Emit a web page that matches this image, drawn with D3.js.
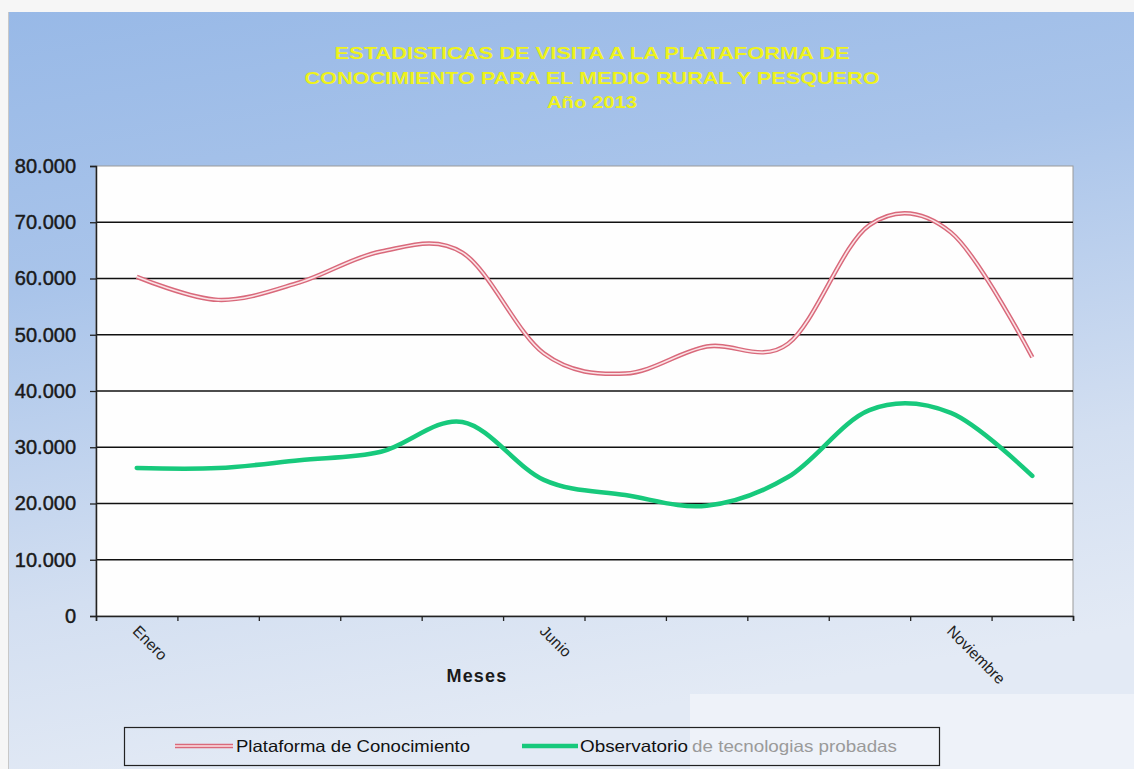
<!DOCTYPE html>
<html><head><meta charset="utf-8">
<script src="https://cdn.jsdelivr.net/npm/d3@7"></script>
<style>html,body{margin:0;padding:0;background:#f6f6f6;}svg{display:block;}</style>
</head><body>
<script>
const months = ["Enero","Febrero","Marzo","Abril","Mayo","Junio","Julio","Agosto","Septiembre","Octubre","Noviembre","Diciembre"];
const shownMonths = ["Enero","Junio","Noviembre"];
const plataforma = [60300,56200,59300,64800,64600,46700,43100,47900,48400,69500,68200,46000];
const observatorio = [26300,26300,27700,29200,34500,24200,21500,19600,24700,36600,36100,24900];
const yTicks = [0,10000,20000,30000,40000,50000,60000,70000,80000];
const titleLines = ["ESTADISTICAS DE VISITA A LA PLATAFORMA DE","CONOCIMIENTO  PARA EL MEDIO RURAL Y PESQUERO","Año 2013"];
const seriesNames = ["Plataforma de Conocimiento","Observatorio","de tecnologias probadas"];

const W=1134,H=769;
const svg=d3.select("body").append("svg").attr("width",W).attr("height",H);
const defs=svg.append("defs");
const g1=defs.append("linearGradient").attr("id","bg").attr("x1",0).attr("y1",0).attr("x2",0.25).attr("y2",1);
g1.append("stop").attr("offset","0%").attr("stop-color","#98b9e7");
g1.append("stop").attr("offset","35%").attr("stop-color","#a9c4ea");
g1.append("stop").attr("offset","75%").attr("stop-color","#d3dff1");
g1.append("stop").attr("offset","100%").attr("stop-color","#e3eaf5");

svg.append("rect").attr("width",W).attr("height",H).attr("fill","#f6f6f6");
svg.append("rect").attr("x",8).attr("y",12).attr("width",W-8).attr("height",H-12).attr("fill","url(#bg)");
svg.append("line").attr("x1",8.5).attr("x2",8.5).attr("y1",12).attr("y2",H).attr("stroke","#c8c8c8");

const L=96,R=1073,T=166,B=616;
const x=d3.scaleBand().domain(months).range([L,R]).padding(0);
const xi=d3.scaleLinear().domain([0,months.length]).range([L,R]);
const y=d3.scaleLinear().domain([0,80000]).range([B,T]);

svg.append("rect").attr("x",L).attr("y",T).attr("width",R-L).attr("height",B-T).attr("fill","#fefefe").attr("stroke","#9a9a9a");

svg.append("g").selectAll("line").data(yTicks.filter(d=>d>0&&d<80000)).join("line")
  .attr("x1",L).attr("x2",R).attr("y1",d=>y(d)).attr("y2",d=>y(d))
  .attr("stroke","#111").attr("stroke-width",1.3);

const loc=d3.formatLocale({decimal:",",thousands:".",grouping:[3],currency:["",""]});
const fmt=loc.format(",.0f");
const ya=svg.append("g").attr("transform",`translate(${L},0)`)
  .call(d3.axisLeft(y).tickValues(yTicks).tickFormat(fmt).tickSize(6).tickPadding(14));
ya.select(".domain").attr("stroke","#222").attr("stroke-width",1.5);
ya.selectAll(".tick line").attr("stroke","#222").attr("stroke-width",1.3);
ya.selectAll("text").attr("font-family","Arial, 'Liberation Sans', sans-serif").attr("font-size",20)
  .attr("fill","#1a1a1a").attr("stroke","#1a1a1a").attr("stroke-width",0.45);

const xa=svg.append("g").attr("transform",`translate(0,${B})`)
  .call(d3.axisBottom(xi).tickValues(d3.range(months.length+1)).tickFormat("").tickSize(5));
xa.select(".domain").attr("stroke","#222").attr("stroke-width",1.5);
xa.selectAll(".tick line").attr("stroke","#222").attr("stroke-width",1.3);

svg.append("g").selectAll("text").data(shownMonths).join("text")
  .attr("transform",d=>`translate(${x(d)+x.bandwidth()/2-5},${B+16}) rotate(45)`)
  .attr("font-family","Arial, 'Liberation Sans', sans-serif").attr("font-size",15.5).attr("fill","#222")
  .text(d=>d);

svg.append("text").attr("x",477).attr("y",682).attr("text-anchor","middle")
  .attr("font-family","Arial, 'Liberation Sans', sans-serif").attr("font-size",18).attr("font-weight","bold")
  .attr("letter-spacing",1.2).attr("fill","#1a1a1a").text("Meses");

const line=d3.line().x((d,i)=>x(months[i])+x.bandwidth()/2).y(d=>y(d)).curve(d3.curveCardinal.tension(0));
svg.append("path").datum(plataforma).attr("d",line).attr("fill","none").attr("stroke","#d9697b").attr("stroke-width",4.5);
svg.append("path").datum(plataforma).attr("d",line).attr("fill","none").attr("stroke","#fbe3e6").attr("stroke-width",1.6);
svg.append("path").datum(observatorio).attr("d",line).attr("fill","none").attr("stroke","#17c97c").attr("stroke-width",4.5).attr("stroke-linecap","round");

const tWidths=[515,575,90];
svg.append("g").selectAll("text").data(titleLines).join("text")
  .attr("x",592).attr("y",(d,i)=>59+i*24.5).attr("text-anchor","middle")
  .attr("font-family","Arial, 'Liberation Sans', sans-serif").attr("font-size",17).attr("font-weight","bold")
  .attr("textLength",(d,i)=>tWidths[i]).attr("lengthAdjust","spacingAndGlyphs")
  .attr("fill","#eef21c").text(d=>d);

svg.append("rect").attr("x",690).attr("y",694).attr("width",W-690).attr("height",H-694).attr("fill","#eef2f9");

const lg=svg.append("g");
lg.append("rect").attr("x",124.5).attr("y",727.5).attr("width",815).attr("height",38).attr("fill","none").attr("stroke","#222").attr("stroke-width",1.2);
lg.append("line").attr("x1",175).attr("x2",233).attr("y1",746).attr("y2",746).attr("stroke","#d9697b").attr("stroke-width",4.5);
lg.append("line").attr("x1",175).attr("x2",233).attr("y1",746).attr("y2",746).attr("stroke","#fbe3e6").attr("stroke-width",1.6);
lg.append("line").attr("x1",522).attr("x2",578).attr("y1",746).attr("y2",746).attr("stroke","#17c97c").attr("stroke-width",4.5);
const lf="Arial, 'Liberation Sans', sans-serif";
lg.append("text").attr("x",236).attr("y",752).attr("font-family",lf).attr("font-size",16.5).attr("fill","#111").attr("textLength",234).attr("lengthAdjust","spacingAndGlyphs").text(seriesNames[0]);
lg.append("text").attr("x",580).attr("y",752).attr("font-family",lf).attr("font-size",16.5).attr("fill","#111").attr("textLength",108).attr("lengthAdjust","spacingAndGlyphs").text(seriesNames[1]);
lg.append("text").attr("x",692).attr("y",752).attr("font-family",lf).attr("font-size",16.5).attr("fill","#9a9a9a").attr("textLength",205).attr("lengthAdjust","spacingAndGlyphs").text(seriesNames[2]);
</script>
</body></html>
